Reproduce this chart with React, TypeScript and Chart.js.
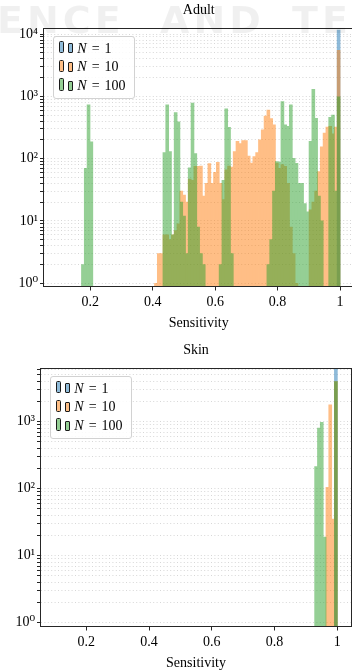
import React, { useEffect, useRef } from 'react';
import { Chart, registerables } from 'chart.js';

Chart.register(...registerables);

const SERIF = '"Liberation Serif", "Times New Roman", "DejaVu Serif", serif';

// Histogram bins: width 0.009, first bin starting at 0.1 (100 bins up to 1.0)
const binStart = 0.1;
const binWidth = 0.009;

const xTickValues = [0.2, 0.4, 0.6, 0.8, 1.0];
const xAxisTitle = 'Sensitivity';
const seriesNames = ['1', '10', '100'];

// ---- Adult ----
const adultTitle = 'Adult';
const adultMajorExponents = [0, 1, 2, 3, 4];
const adultN1FirstBin = 99;
const adultN1 = [11600];
const adultN10FirstBin = 34;
const adultN10 = [
  1, 3, 3, 6, 6, 5, 6, 7, 9, 30,
  26, 20, 47, 45, 75, 75, 76, 25, 40, 83,
  40, 60, 87, 40, 22, 66, 76, 73, 130, 190,
  175, 195, 195, 110, 85, 108, 125, 200, 290, 480,
  600, 440, 350, 85, 70, 80, 75, 40, 8, 3,
  1, 0, 0, 0, 0, 15, 20, 30, 62, 155,
  256, 320, 330, 250, 320, 5500,
];
const adultN100FirstBin = 8;
const adultN100 = [
  2, 70, 730, 186,
  0, 0, 0, 0, 0, 0, 0, 0, 0, 0, 0, 0, 0, 0, 0, 0, 0, 0, 0, 0, 0, 0, 0, 0, 0,
  125, 730, 130, 6, 550, 390, 20, 12, 3, 71,
  780, 120, 8, 3, 2, 0, 0, 0, 0, 0,
  2, 45, 630, 318, 3,
  0, 0, 0, 0, 0, 0, 0, 0, 0, 0, 0, 0,
  2, 5, 30, 90, 88, 820, 350, 330, 727, 101,
  84, 40, 40, 19, 14, 190, 1300, 445, 25, 10,
  0, 0, 460, 500, 30, 980,
];

// ---- Skin ----
const skinTitle = 'Skin';
const skinMajorExponents = [0, 1, 2, 3];
const skinN1FirstBin = 99;
const skinN1 = [6050];
const skinN10FirstBin = 96;
const skinN10 = [105, 1780, 35, 3950];
const skinN100FirstBin = 92;
const skinN100 = [213, 800, 980, 19, 0, 0, 0, 3950];

const SUP = ['\u2070', '\u00b9', '\u00b2', '\u00b3', '\u2074', '\u2075'];
const BASE_COLORS = ['#1f77b4', '#ff7f0e', '#2ca02c'];
const SERIES_ALPHA = 0.5;
const SWATCH = ['rgb(143,187,217)', 'rgb(255,191,134)', 'rgb(149,207,149)'];
const AXIS = '#262626';

function binned(first: number, counts: number[]) {
  return counts.map((c, i) => ({
    x: binStart + (first + i + 0.5) * binWidth,
    y: c > 0 ? c : null,
  }));
}

function logTicks(exps: number[], min: number, max: number) {
  const out: { value: number; major: boolean }[] = [];
  for (const e of exps) {
    for (let d = 1; d <= 9; d++) {
      const v = d * Math.pow(10, e);
      if (v >= min && v <= max) out.push({ value: v, major: false });
    }
  }
  return out;
}

// Draw each histogram dataset opaque on its own layer, then blend the layer
// with transparency (like a single translucent patch collection).
const layerPlugin = {
  id: 'alphaLayer',
  beforeDatasetDraw(chart: any, args: any) {
    const meta = args.meta;
    const w = chart.canvas.width;
    const h = chart.canvas.height;
    let off: HTMLCanvasElement = chart.$alphaLayer;
    if (!off) {
      off = document.createElement('canvas');
      chart.$alphaLayer = off;
    }
    off.width = w;
    off.height = h;
    const octx = off.getContext('2d') as CanvasRenderingContext2D;
    octx.clearRect(0, 0, w, h);
    const a = chart.chartArea;
    octx.save();
    octx.beginPath();
    octx.rect(a.left, a.top, a.right - a.left, a.bottom - a.top);
    octx.clip();
    meta.data.forEach((el: any, i: number) => {
      const p = meta.controller.getParsed(i);
      if (p && p.y !== null && !isNaN(p.y)) el.draw(octx);
    });
    octx.restore();
    const ctx = chart.ctx;
    ctx.save();
    ctx.setTransform(1, 0, 0, 1, 0, 0);
    ctx.globalAlpha = SERIES_ALPHA;
    ctx.drawImage(off, 0, 0);
    ctx.restore();
    return false;
  },
};

const framePlugin = {
  id: 'frame',
  afterDraw(chart: any) {
    const { ctx, chartArea: a } = chart;
    ctx.save();
    ctx.strokeStyle = AXIS;
    ctx.lineWidth = 1;
    ctx.strokeRect(a.left, a.top, a.right - a.left, a.bottom - a.top);
    ctx.restore();
  },
};

type Cfg = {
  title: string;
  wrapTop: number;
  width: number;
  height: number;
  area: { left: number; top: number; right: number; bottom: number };
  xMin: number;
  xMax: number;
  yMin: number;
  yMax: number;
  exps: number[];
  series: { first: number; counts: number[] }[];
};

const adultCfg: Cfg = {
  title: adultTitle,
  wrapTop: 0,
  width: 356,
  height: 336,
  area: { left: 43.5, top: 28.5, right: 354, bottom: 286.5 },
  xMin: 0.0502,
  xMax: 1.0448,
  yMin: 0.888,
  yMax: 12300,
  exps: adultMajorExponents,
  series: [
    { first: adultN1FirstBin, counts: adultN1 },
    { first: adultN10FirstBin, counts: adultN10 },
    { first: adultN100FirstBin, counts: adultN100 },
  ],
};

const skinCfg: Cfg = {
  title: skinTitle,
  wrapTop: 340,
  width: 352,
  height: 331,
  area: { left: 40.5, top: 28.5, right: 351.5, bottom: 286.5 },
  xMin: 0.054,
  xMax: 1.0453,
  yMin: 0.878,
  yMax: 6223,
  exps: skinMajorExponents,
  series: [
    { first: skinN1FirstBin, counts: skinN1 },
    { first: skinN10FirstBin, counts: skinN10 },
    { first: skinN100FirstBin, counts: skinN100 },
  ],
};

function Legend({ left, top }: { left: number; top: number }) {
  return (
    <div
      style={{
        position: 'absolute',
        left,
        top,
        width: 81.7,
        height: 62.7,
        boxSizing: 'border-box',
        border: '1px solid #d2d2d2',
        borderRadius: 3,
        background: 'rgba(255,255,255,0.85)',
        fontFamily: SERIF,
        fontSize: 14,
        color: '#000',
      }}
    >
      {seriesNames.map((n, i) => (
        <React.Fragment key={n}>
          <div
            style={{
              position: 'absolute',
              left: 4.4,
              top: 4 + i * 18.7,
              width: 5.6,
              height: 12.3,
              boxSizing: 'border-box',
              border: '1.3px solid #1a1a1a',
              borderRadius: 1.5,
              background: SWATCH[i],
            }}
          />
          <div
            style={{
              position: 'absolute',
              left: 13.7,
              top: 6.3 + i * 18.7,
              width: 5.3,
              height: 10,
              boxSizing: 'border-box',
              border: '1.3px solid #1a1a1a',
              borderRadius: 1,
              background: SWATCH[i],
            }}
          />
          <div
            style={{
              position: 'absolute',
              left: 23,
              top: 4.6 + i * 18.7,
              lineHeight: '14px',
              whiteSpace: 'nowrap',
              wordSpacing: 1.5,
            }}
          >
            <i>N</i> = {n}
          </div>
        </React.Fragment>
      ))}
    </div>
  );
}

function HistChart({ cfg }: { cfg: Cfg }) {
  const ref = useRef<HTMLCanvasElement | null>(null);
  useEffect(() => {
    if (!ref.current) return;
    const { area, width, height } = cfg;
    const yTicks = logTicks(cfg.exps, cfg.yMin, cfg.yMax);
    const chart = new Chart(ref.current, {
      type: 'bar',
      data: {
        datasets: cfg.series.map((s, i) => ({
          label: 'N = ' + seriesNames[i],
          data: binned(s.first, s.counts) as any,
          backgroundColor: BASE_COLORS[i],
          borderWidth: 0,
          order: 3 - i,
          grouped: false,
          barPercentage: 1,
          categoryPercentage: 1,
          inflateAmount: 0.4,
        })),
      },
      options: {
        animation: false,
        responsive: false,
        devicePixelRatio: 1,
        layout: { padding: { top: area.top, left: 0, right: width - area.right, bottom: 0 } },
        plugins: {
          legend: { display: false },
          tooltip: { enabled: false },
          title: { display: false },
        },
        scales: {
          x: {
            type: 'linear',
            min: cfg.xMin,
            max: cfg.xMax,
            offset: false,
            afterFit: (s: any) => {
              s.height = height - area.bottom;
            },
            afterBuildTicks: (s: any) => {
              s.ticks = xTickValues.map((v) => ({ value: v }));
            },
            ticks: {
              autoSkip: false,
              maxRotation: 0,
              padding: 3,
              color: '#000',
              font: { family: SERIF, size: 14 },
              callback: (v: any) => (Number(v) === 1 ? '1' : Number(v).toFixed(1)),
            },
            grid: {
              offset: false,
              drawOnChartArea: false,
              drawTicks: true,
              tickLength: 4,
              tickColor: AXIS,
              tickWidth: 1,
            },
            border: { display: false },
          },
          y: {
            type: 'logarithmic',
            min: cfg.yMin,
            max: cfg.yMax,
            afterFit: (s: any) => {
              s.width = area.left;
            },
            afterBuildTicks: (s: any) => {
              s.ticks = yTicks.map((t) => ({ ...t }));
            },
            ticks: {
              autoSkip: false,
              padding: 2,
              color: '#000',
              font: { family: SERIF, size: 14 },
              callback: (v: any) => {
                const e = Math.round(Math.log10(Number(v)));
                return Math.abs(Number(v) - Math.pow(10, e)) < 1e-9 ? '10' + SUP[e] : '';
              },
            },
            grid: {
              color: '#cdcdcd',
              lineWidth: 0.8,
              drawTicks: true,
              tickLength: 3.5,
              tickColor: AXIS,
              tickWidth: 1,
            },
            border: { display: false, dash: [1, 2.4] },
          },
        },
      } as any,
      plugins: [layerPlugin, framePlugin],
    });
    return () => chart.destroy();
  }, [cfg]);

  const { area } = cfg;
  const center = (area.left + area.right) / 2;
  return (
    <div style={{ position: 'absolute', left: 0, top: cfg.wrapTop, width: cfg.width, height: cfg.height }}>
      <canvas
        ref={ref}
        width={cfg.width}
        height={cfg.height}
        style={{ display: 'block', width: cfg.width, height: cfg.height }}
      />
      <div
        style={{
          position: 'absolute',
          left: center - 60,
          width: 120,
          top: 2.6,
          textAlign: 'center',
          fontFamily: SERIF,
          fontSize: 14,
          lineHeight: '14px',
          color: '#000',
        }}
      >
        {cfg.title}
      </div>
      <div
        style={{
          position: 'absolute',
          left: center - 60,
          width: 120,
          top: 315.6,
          textAlign: 'center',
          fontFamily: SERIF,
          fontSize: 14,
          lineHeight: '14px',
          color: '#000',
        }}
      >
        {xAxisTitle}
      </div>
      <Legend left={area.left + 9.8} top={area.top + 7.5} />
    </div>
  );
}

function Watermark() {
  const base: React.CSSProperties = {
    position: 'absolute',
    top: 1,
    fontFamily: '"DejaVu Sans", sans-serif',
    fontWeight: 'bold',
    fontSize: 38,
    lineHeight: '38px',
    letterSpacing: 4,
    color: 'rgba(0,0,0,0.06)',
    whiteSpace: 'nowrap',
    pointerEvents: 'none',
  };
  return (
    <>
      <div style={{ ...base, left: -3 }}>ENCE</div>
      <div style={{ ...base, left: 160 }}>AND</div>
      <div style={{ ...base, left: 292 }}>TE</div>
    </>
  );
}

export default function App() {
  return (
    <div
      style={{
        position: 'fixed',
        left: 0,
        top: 0,
        width: 352,
        height: 671,
        overflow: 'hidden',
        background: '#fff',
      }}
    >
      <HistChart cfg={adultCfg} />
      <HistChart cfg={skinCfg} />
      <Watermark />
    </div>
  );
}
